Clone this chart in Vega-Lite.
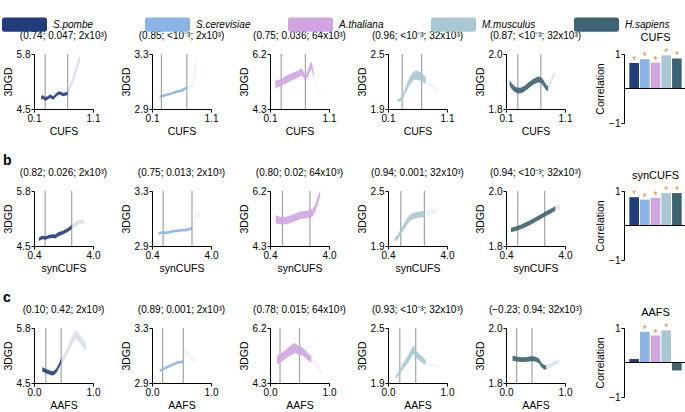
{
"$schema":"https://vega.github.io/schema/vega-lite/v6.json",
"padding":{"left":2,"top":2,"right":0,"bottom":0},
"spacing":17,
"datasets":{
"bands":[
{"f":"CUFS","s":"S.pombe","p":"main","x":0.22,"lo":4.72,"hi":4.80},
{"f":"CUFS","s":"S.pombe","p":"main","x":0.25,"lo":4.74,"hi":4.83},
{"f":"CUFS","s":"S.pombe","p":"main","x":0.28,"lo":4.70,"hi":4.79},
{"f":"CUFS","s":"S.pombe","p":"main","x":0.31,"lo":4.70,"hi":4.79},
{"f":"CUFS","s":"S.pombe","p":"main","x":0.34,"lo":4.73,"hi":4.81},
{"f":"CUFS","s":"S.pombe","p":"main","x":0.37,"lo":4.76,"hi":4.85},
{"f":"CUFS","s":"S.pombe","p":"main","x":0.40,"lo":4.74,"hi":4.82},
{"f":"CUFS","s":"S.pombe","p":"main","x":0.43,"lo":4.72,"hi":4.81},
{"f":"CUFS","s":"S.pombe","p":"main","x":0.46,"lo":4.77,"hi":4.85},
{"f":"CUFS","s":"S.pombe","p":"main","x":0.49,"lo":4.81,"hi":4.89},
{"f":"CUFS","s":"S.pombe","p":"main","x":0.52,"lo":4.84,"hi":4.92},
{"f":"CUFS","s":"S.pombe","p":"main","x":0.55,"lo":4.83,"hi":4.91},
{"f":"CUFS","s":"S.pombe","p":"main","x":0.58,"lo":4.81,"hi":4.89},
{"f":"CUFS","s":"S.pombe","p":"main","x":0.61,"lo":4.80,"hi":4.88},
{"f":"CUFS","s":"S.pombe","p":"main","x":0.64,"lo":4.82,"hi":4.90},
{"f":"CUFS","s":"S.pombe","p":"main","x":0.67,"lo":4.83,"hi":4.91},
{"f":"CUFS","s":"S.pombe","p":"tail","x":0.67,"lo":4.83,"hi":4.91},
{"f":"CUFS","s":"S.pombe","p":"tail","x":0.70,"lo":4.92,"hi":5.06},
{"f":"CUFS","s":"S.pombe","p":"tail","x":0.73,"lo":5.02,"hi":5.16},
{"f":"CUFS","s":"S.pombe","p":"tail","x":0.76,"lo":5.10,"hi":5.28},
{"f":"CUFS","s":"S.pombe","p":"tail","x":0.80,"lo":5.25,"hi":5.45},
{"f":"CUFS","s":"S.pombe","p":"tail","x":0.84,"lo":5.45,"hi":5.65},
{"f":"CUFS","s":"S.pombe","p":"tail","x":0.88,"lo":5.62,"hi":5.80},
{"f":"CUFS","s":"S.cerevisiae","p":"main","x":0.23,"lo":2.980,"hi":3.000},
{"f":"CUFS","s":"S.cerevisiae","p":"main","x":0.27,"lo":2.985,"hi":3.005},
{"f":"CUFS","s":"S.cerevisiae","p":"main","x":0.31,"lo":2.990,"hi":3.008},
{"f":"CUFS","s":"S.cerevisiae","p":"main","x":0.35,"lo":2.995,"hi":3.012},
{"f":"CUFS","s":"S.cerevisiae","p":"main","x":0.39,"lo":2.998,"hi":3.018},
{"f":"CUFS","s":"S.cerevisiae","p":"main","x":0.43,"lo":3.005,"hi":3.022},
{"f":"CUFS","s":"S.cerevisiae","p":"main","x":0.47,"lo":3.010,"hi":3.028},
{"f":"CUFS","s":"S.cerevisiae","p":"main","x":0.51,"lo":3.015,"hi":3.035},
{"f":"CUFS","s":"S.cerevisiae","p":"main","x":0.55,"lo":3.020,"hi":3.040},
{"f":"CUFS","s":"S.cerevisiae","p":"main","x":0.59,"lo":3.022,"hi":3.042},
{"f":"CUFS","s":"S.cerevisiae","p":"main","x":0.63,"lo":3.030,"hi":3.052},
{"f":"CUFS","s":"S.cerevisiae","p":"main","x":0.67,"lo":3.040,"hi":3.062},
{"f":"CUFS","s":"S.cerevisiae","p":"main","x":0.69,"lo":3.045,"hi":3.068},
{"f":"CUFS","s":"S.cerevisiae","p":"tail","x":0.69,"lo":3.045,"hi":3.068},
{"f":"CUFS","s":"S.cerevisiae","p":"tail","x":0.72,"lo":3.050,"hi":3.075},
{"f":"CUFS","s":"S.cerevisiae","p":"tail","x":0.75,"lo":3.052,"hi":3.080},
{"f":"CUFS","s":"S.cerevisiae","p":"tail","x":0.78,"lo":3.055,"hi":3.085},
{"f":"CUFS","s":"S.cerevisiae","p":"tail","x":0.82,"lo":3.100,"hi":3.200},
{"f":"CUFS","s":"S.cerevisiae","p":"tail","x":0.85,"lo":3.180,"hi":3.280},
{"f":"CUFS","s":"A.thaliana","p":"main","x":0.19,"lo":5.02,"hi":5.28},
{"f":"CUFS","s":"A.thaliana","p":"main","x":0.23,"lo":5.05,"hi":5.30},
{"f":"CUFS","s":"A.thaliana","p":"main","x":0.27,"lo":5.08,"hi":5.33},
{"f":"CUFS","s":"A.thaliana","p":"main","x":0.31,"lo":5.12,"hi":5.36},
{"f":"CUFS","s":"A.thaliana","p":"main","x":0.35,"lo":5.16,"hi":5.42},
{"f":"CUFS","s":"A.thaliana","p":"main","x":0.39,"lo":5.20,"hi":5.47},
{"f":"CUFS","s":"A.thaliana","p":"main","x":0.43,"lo":5.24,"hi":5.50},
{"f":"CUFS","s":"A.thaliana","p":"main","x":0.47,"lo":5.28,"hi":5.54},
{"f":"CUFS","s":"A.thaliana","p":"main","x":0.51,"lo":5.32,"hi":5.57},
{"f":"CUFS","s":"A.thaliana","p":"main","x":0.55,"lo":5.36,"hi":5.60},
{"f":"CUFS","s":"A.thaliana","p":"main","x":0.59,"lo":5.40,"hi":5.64},
{"f":"CUFS","s":"A.thaliana","p":"main","x":0.63,"lo":5.46,"hi":5.72},
{"f":"CUFS","s":"A.thaliana","p":"main","x":0.66,"lo":5.40,"hi":5.62},
{"f":"CUFS","s":"A.thaliana","p":"main","x":0.69,"lo":5.30,"hi":5.48},
{"f":"CUFS","s":"A.thaliana","p":"main","x":0.72,"lo":5.32,"hi":5.52},
{"f":"CUFS","s":"A.thaliana","p":"main","x":0.75,"lo":5.45,"hi":5.70},
{"f":"CUFS","s":"A.thaliana","p":"main","x":0.78,"lo":5.60,"hi":5.88},
{"f":"CUFS","s":"A.thaliana","p":"main","x":0.80,"lo":5.68,"hi":5.95},
{"f":"CUFS","s":"A.thaliana","p":"main","x":0.82,"lo":5.55,"hi":5.80},
{"f":"CUFS","s":"A.thaliana","p":"main","x":0.84,"lo":5.40,"hi":5.58},
{"f":"CUFS","s":"A.thaliana","p":"tail","x":0.84,"lo":5.40,"hi":5.58},
{"f":"CUFS","s":"A.thaliana","p":"tail","x":0.87,"lo":5.22,"hi":5.36},
{"f":"CUFS","s":"A.thaliana","p":"tail","x":0.90,"lo":5.02,"hi":5.15},
{"f":"CUFS","s":"A.thaliana","p":"tail","x":0.93,"lo":4.82,"hi":4.95},
{"f":"CUFS","s":"A.thaliana","p":"tail","x":0.96,"lo":4.75,"hi":4.85},
{"f":"CUFS","s":"M.musculus","p":"main","x":0.26,"lo":1.975,"hi":2.005},
{"f":"CUFS","s":"M.musculus","p":"main","x":0.29,"lo":1.980,"hi":2.015},
{"f":"CUFS","s":"M.musculus","p":"main","x":0.32,"lo":1.990,"hi":2.030},
{"f":"CUFS","s":"M.musculus","p":"main","x":0.35,"lo":2.010,"hi":2.060},
{"f":"CUFS","s":"M.musculus","p":"main","x":0.38,"lo":2.050,"hi":2.110},
{"f":"CUFS","s":"M.musculus","p":"main","x":0.41,"lo":2.090,"hi":2.160},
{"f":"CUFS","s":"M.musculus","p":"main","x":0.44,"lo":2.130,"hi":2.210},
{"f":"CUFS","s":"M.musculus","p":"main","x":0.47,"lo":2.170,"hi":2.250},
{"f":"CUFS","s":"M.musculus","p":"main","x":0.50,"lo":2.190,"hi":2.280},
{"f":"CUFS","s":"M.musculus","p":"main","x":0.53,"lo":2.210,"hi":2.300},
{"f":"CUFS","s":"M.musculus","p":"main","x":0.56,"lo":2.220,"hi":2.320},
{"f":"CUFS","s":"M.musculus","p":"main","x":0.59,"lo":2.220,"hi":2.320},
{"f":"CUFS","s":"M.musculus","p":"main","x":0.62,"lo":2.215,"hi":2.310},
{"f":"CUFS","s":"M.musculus","p":"main","x":0.65,"lo":2.205,"hi":2.300},
{"f":"CUFS","s":"M.musculus","p":"main","x":0.68,"lo":2.195,"hi":2.285},
{"f":"CUFS","s":"M.musculus","p":"main","x":0.71,"lo":2.185,"hi":2.270},
{"f":"CUFS","s":"M.musculus","p":"main","x":0.74,"lo":2.175,"hi":2.255},
{"f":"CUFS","s":"M.musculus","p":"tail","x":0.74,"lo":2.175,"hi":2.255},
{"f":"CUFS","s":"M.musculus","p":"tail","x":0.78,"lo":2.160,"hi":2.230},
{"f":"CUFS","s":"M.musculus","p":"tail","x":0.82,"lo":2.140,"hi":2.200},
{"f":"CUFS","s":"M.musculus","p":"tail","x":0.86,"lo":2.120,"hi":2.170},
{"f":"CUFS","s":"M.musculus","p":"tail","x":0.90,"lo":2.100,"hi":2.150},
{"f":"CUFS","s":"M.musculus","p":"tail","x":0.94,"lo":2.085,"hi":2.125},
{"f":"CUFS","s":"M.musculus","p":"tail","x":0.97,"lo":2.080,"hi":2.110},
{"f":"CUFS","s":"H.sapiens","p":"main","x":0.16,"lo":1.885,"hi":1.905},
{"f":"CUFS","s":"H.sapiens","p":"main","x":0.20,"lo":1.872,"hi":1.893},
{"f":"CUFS","s":"H.sapiens","p":"main","x":0.24,"lo":1.863,"hi":1.884},
{"f":"CUFS","s":"H.sapiens","p":"main","x":0.28,"lo":1.858,"hi":1.878},
{"f":"CUFS","s":"H.sapiens","p":"main","x":0.32,"lo":1.856,"hi":1.877},
{"f":"CUFS","s":"H.sapiens","p":"main","x":0.36,"lo":1.858,"hi":1.878},
{"f":"CUFS","s":"H.sapiens","p":"main","x":0.40,"lo":1.862,"hi":1.883},
{"f":"CUFS","s":"H.sapiens","p":"main","x":0.44,"lo":1.868,"hi":1.889},
{"f":"CUFS","s":"H.sapiens","p":"main","x":0.48,"lo":1.875,"hi":1.896},
{"f":"CUFS","s":"H.sapiens","p":"main","x":0.52,"lo":1.882,"hi":1.903},
{"f":"CUFS","s":"H.sapiens","p":"main","x":0.56,"lo":1.888,"hi":1.909},
{"f":"CUFS","s":"H.sapiens","p":"main","x":0.60,"lo":1.893,"hi":1.914},
{"f":"CUFS","s":"H.sapiens","p":"main","x":0.64,"lo":1.896,"hi":1.917},
{"f":"CUFS","s":"H.sapiens","p":"main","x":0.68,"lo":1.896,"hi":1.917},
{"f":"CUFS","s":"H.sapiens","p":"main","x":0.72,"lo":1.888,"hi":1.910},
{"f":"CUFS","s":"H.sapiens","p":"main","x":0.75,"lo":1.878,"hi":1.900},
{"f":"CUFS","s":"H.sapiens","p":"main","x":0.78,"lo":1.868,"hi":1.888},
{"f":"CUFS","s":"H.sapiens","p":"main","x":0.81,"lo":1.865,"hi":1.884},
{"f":"CUFS","s":"H.sapiens","p":"tail","x":0.81,"lo":1.865,"hi":1.884},
{"f":"CUFS","s":"H.sapiens","p":"tail","x":0.84,"lo":1.875,"hi":1.895},
{"f":"CUFS","s":"H.sapiens","p":"tail","x":0.87,"lo":1.895,"hi":1.915},
{"f":"CUFS","s":"H.sapiens","p":"tail","x":0.90,"lo":1.910,"hi":1.930},
{"f":"CUFS","s":"H.sapiens","p":"tail","x":0.93,"lo":1.918,"hi":1.938},
{"f":"synCUFS","s":"S.pombe","p":"main","x":0.70,"lo":4.62,"hi":4.70},
{"f":"synCUFS","s":"S.pombe","p":"main","x":0.90,"lo":4.66,"hi":4.74},
{"f":"synCUFS","s":"S.pombe","p":"main","x":1.10,"lo":4.65,"hi":4.73},
{"f":"synCUFS","s":"S.pombe","p":"main","x":1.30,"lo":4.68,"hi":4.76},
{"f":"synCUFS","s":"S.pombe","p":"main","x":1.50,"lo":4.69,"hi":4.78},
{"f":"synCUFS","s":"S.pombe","p":"main","x":1.70,"lo":4.68,"hi":4.77},
{"f":"synCUFS","s":"S.pombe","p":"main","x":1.90,"lo":4.73,"hi":4.83},
{"f":"synCUFS","s":"S.pombe","p":"main","x":2.10,"lo":4.76,"hi":4.85},
{"f":"synCUFS","s":"S.pombe","p":"main","x":2.30,"lo":4.80,"hi":4.89},
{"f":"synCUFS","s":"S.pombe","p":"main","x":2.50,"lo":4.84,"hi":4.93},
{"f":"synCUFS","s":"S.pombe","p":"main","x":2.70,"lo":4.90,"hi":5.00},
{"f":"synCUFS","s":"S.pombe","p":"tail","x":2.70,"lo":4.90,"hi":5.00},
{"f":"synCUFS","s":"S.pombe","p":"tail","x":2.90,"lo":4.95,"hi":5.06},
{"f":"synCUFS","s":"S.pombe","p":"tail","x":3.10,"lo":5.00,"hi":5.11},
{"f":"synCUFS","s":"S.pombe","p":"tail","x":3.30,"lo":5.03,"hi":5.14},
{"f":"synCUFS","s":"S.pombe","p":"tail","x":3.45,"lo":5.01,"hi":5.11},
{"f":"synCUFS","s":"S.cerevisiae","p":"main","x":0.80,"lo":2.980,"hi":3.000},
{"f":"synCUFS","s":"S.cerevisiae","p":"main","x":1.00,"lo":2.988,"hi":3.008},
{"f":"synCUFS","s":"S.cerevisiae","p":"main","x":1.20,"lo":2.985,"hi":3.005},
{"f":"synCUFS","s":"S.cerevisiae","p":"main","x":1.40,"lo":2.990,"hi":3.010},
{"f":"synCUFS","s":"S.cerevisiae","p":"main","x":1.60,"lo":2.995,"hi":3.015},
{"f":"synCUFS","s":"S.cerevisiae","p":"main","x":1.80,"lo":3.000,"hi":3.020},
{"f":"synCUFS","s":"S.cerevisiae","p":"main","x":2.00,"lo":3.000,"hi":3.020},
{"f":"synCUFS","s":"S.cerevisiae","p":"main","x":2.20,"lo":3.005,"hi":3.025},
{"f":"synCUFS","s":"S.cerevisiae","p":"main","x":2.40,"lo":3.005,"hi":3.025},
{"f":"synCUFS","s":"S.cerevisiae","p":"main","x":2.60,"lo":3.010,"hi":3.030},
{"f":"synCUFS","s":"S.cerevisiae","p":"main","x":2.84,"lo":3.020,"hi":3.042},
{"f":"synCUFS","s":"S.cerevisiae","p":"tail","x":2.84,"lo":3.020,"hi":3.042},
{"f":"synCUFS","s":"S.cerevisiae","p":"tail","x":2.95,"lo":3.050,"hi":3.090},
{"f":"synCUFS","s":"S.cerevisiae","p":"tail","x":3.05,"lo":3.100,"hi":3.140},
{"f":"synCUFS","s":"S.cerevisiae","p":"tail","x":3.20,"lo":3.110,"hi":3.150},
{"f":"synCUFS","s":"S.cerevisiae","p":"tail","x":3.35,"lo":3.100,"hi":3.135},
{"f":"synCUFS","s":"A.thaliana","p":"main","x":0.75,"lo":5.08,"hi":5.36},
{"f":"synCUFS","s":"A.thaliana","p":"main","x":1.00,"lo":5.05,"hi":5.31},
{"f":"synCUFS","s":"A.thaliana","p":"main","x":1.25,"lo":5.04,"hi":5.30},
{"f":"synCUFS","s":"A.thaliana","p":"main","x":1.50,"lo":5.07,"hi":5.33},
{"f":"synCUFS","s":"A.thaliana","p":"main","x":1.75,"lo":5.12,"hi":5.38},
{"f":"synCUFS","s":"A.thaliana","p":"main","x":2.00,"lo":5.17,"hi":5.43},
{"f":"synCUFS","s":"A.thaliana","p":"main","x":2.25,"lo":5.23,"hi":5.49},
{"f":"synCUFS","s":"A.thaliana","p":"main","x":2.50,"lo":5.25,"hi":5.51},
{"f":"synCUFS","s":"A.thaliana","p":"main","x":2.75,"lo":5.27,"hi":5.53},
{"f":"synCUFS","s":"A.thaliana","p":"main","x":3.00,"lo":5.32,"hi":5.58},
{"f":"synCUFS","s":"A.thaliana","p":"main","x":3.15,"lo":5.48,"hi":5.72},
{"f":"synCUFS","s":"A.thaliana","p":"main","x":3.30,"lo":5.72,"hi":5.98},
{"f":"synCUFS","s":"A.thaliana","p":"main","x":3.45,"lo":5.98,"hi":6.20},
{"f":"synCUFS","s":"A.thaliana","p":"tail","x":3.45,"lo":5.98,"hi":6.20},
{"f":"synCUFS","s":"A.thaliana","p":"tail","x":3.55,"lo":6.08,"hi":6.20},
{"f":"synCUFS","s":"M.musculus","p":"main","x":0.80,"lo":1.950,"hi":1.990},
{"f":"synCUFS","s":"M.musculus","p":"main","x":1.00,"lo":1.975,"hi":2.025},
{"f":"synCUFS","s":"M.musculus","p":"main","x":1.20,"lo":2.030,"hi":2.090},
{"f":"synCUFS","s":"M.musculus","p":"main","x":1.40,"lo":2.085,"hi":2.150},
{"f":"synCUFS","s":"M.musculus","p":"main","x":1.60,"lo":2.140,"hi":2.210},
{"f":"synCUFS","s":"M.musculus","p":"main","x":1.80,"lo":2.180,"hi":2.250},
{"f":"synCUFS","s":"M.musculus","p":"main","x":2.00,"lo":2.195,"hi":2.265},
{"f":"synCUFS","s":"M.musculus","p":"main","x":2.20,"lo":2.205,"hi":2.275},
{"f":"synCUFS","s":"M.musculus","p":"main","x":2.40,"lo":2.210,"hi":2.280},
{"f":"synCUFS","s":"M.musculus","p":"main","x":2.62,"lo":2.215,"hi":2.285},
{"f":"synCUFS","s":"M.musculus","p":"tail","x":2.62,"lo":2.215,"hi":2.285},
{"f":"synCUFS","s":"M.musculus","p":"tail","x":2.80,"lo":2.225,"hi":2.295},
{"f":"synCUFS","s":"M.musculus","p":"tail","x":3.00,"lo":2.235,"hi":2.305},
{"f":"synCUFS","s":"M.musculus","p":"tail","x":3.20,"lo":2.245,"hi":2.315},
{"f":"synCUFS","s":"M.musculus","p":"tail","x":3.40,"lo":2.255,"hi":2.325},
{"f":"synCUFS","s":"H.sapiens","p":"main","x":0.70,"lo":1.850,"hi":1.866},
{"f":"synCUFS","s":"H.sapiens","p":"main","x":1.00,"lo":1.855,"hi":1.871},
{"f":"synCUFS","s":"H.sapiens","p":"main","x":1.30,"lo":1.861,"hi":1.877},
{"f":"synCUFS","s":"H.sapiens","p":"main","x":1.60,"lo":1.868,"hi":1.886},
{"f":"synCUFS","s":"H.sapiens","p":"main","x":1.90,"lo":1.877,"hi":1.895},
{"f":"synCUFS","s":"H.sapiens","p":"main","x":2.20,"lo":1.887,"hi":1.905},
{"f":"synCUFS","s":"H.sapiens","p":"main","x":2.50,"lo":1.897,"hi":1.915},
{"f":"synCUFS","s":"H.sapiens","p":"main","x":2.76,"lo":1.906,"hi":1.924},
{"f":"synCUFS","s":"H.sapiens","p":"main","x":3.10,"lo":1.917,"hi":1.935},
{"f":"synCUFS","s":"H.sapiens","p":"main","x":3.40,"lo":1.927,"hi":1.945},
{"f":"synCUFS","s":"H.sapiens","p":"tail","x":3.40,"lo":1.927,"hi":1.945},
{"f":"synCUFS","s":"H.sapiens","p":"tail","x":3.70,"lo":1.937,"hi":1.953},
{"f":"AAFS","s":"S.pombe","p":"main","x":0.14,"lo":4.77,"hi":4.87},
{"f":"AAFS","s":"S.pombe","p":"main","x":0.18,"lo":4.75,"hi":4.85},
{"f":"AAFS","s":"S.pombe","p":"main","x":0.22,"lo":4.72,"hi":4.82},
{"f":"AAFS","s":"S.pombe","p":"main","x":0.26,"lo":4.70,"hi":4.80},
{"f":"AAFS","s":"S.pombe","p":"main","x":0.30,"lo":4.68,"hi":4.78},
{"f":"AAFS","s":"S.pombe","p":"main","x":0.34,"lo":4.69,"hi":4.79},
{"f":"AAFS","s":"S.pombe","p":"main","x":0.38,"lo":4.74,"hi":4.85},
{"f":"AAFS","s":"S.pombe","p":"main","x":0.42,"lo":4.84,"hi":4.95},
{"f":"AAFS","s":"S.pombe","p":"main","x":0.46,"lo":4.96,"hi":5.08},
{"f":"AAFS","s":"S.pombe","p":"tail","x":0.46,"lo":4.96,"hi":5.08},
{"f":"AAFS","s":"S.pombe","p":"tail","x":0.52,"lo":5.05,"hi":5.20},
{"f":"AAFS","s":"S.pombe","p":"tail","x":0.58,"lo":5.22,"hi":5.40},
{"f":"AAFS","s":"S.pombe","p":"tail","x":0.64,"lo":5.40,"hi":5.60},
{"f":"AAFS","s":"S.pombe","p":"tail","x":0.70,"lo":5.55,"hi":5.75},
{"f":"AAFS","s":"S.pombe","p":"tail","x":0.76,"lo":5.48,"hi":5.68},
{"f":"AAFS","s":"S.pombe","p":"tail","x":0.82,"lo":5.35,"hi":5.55},
{"f":"AAFS","s":"S.pombe","p":"tail","x":0.88,"lo":5.25,"hi":5.45},
{"f":"AAFS","s":"S.cerevisiae","p":"main","x":0.13,"lo":2.980,"hi":3.000},
{"f":"AAFS","s":"S.cerevisiae","p":"main","x":0.18,"lo":2.990,"hi":3.010},
{"f":"AAFS","s":"S.cerevisiae","p":"main","x":0.23,"lo":3.000,"hi":3.020},
{"f":"AAFS","s":"S.cerevisiae","p":"main","x":0.28,"lo":3.010,"hi":3.030},
{"f":"AAFS","s":"S.cerevisiae","p":"main","x":0.33,"lo":3.020,"hi":3.040},
{"f":"AAFS","s":"S.cerevisiae","p":"main","x":0.38,"lo":3.030,"hi":3.050},
{"f":"AAFS","s":"S.cerevisiae","p":"main","x":0.43,"lo":3.040,"hi":3.060},
{"f":"AAFS","s":"S.cerevisiae","p":"main","x":0.48,"lo":3.042,"hi":3.062},
{"f":"AAFS","s":"S.cerevisiae","p":"main","x":0.53,"lo":3.045,"hi":3.065},
{"f":"AAFS","s":"S.cerevisiae","p":"tail","x":0.53,"lo":3.045,"hi":3.065},
{"f":"AAFS","s":"S.cerevisiae","p":"tail","x":0.56,"lo":3.100,"hi":3.140},
{"f":"AAFS","s":"S.cerevisiae","p":"tail","x":0.59,"lo":3.120,"hi":3.160},
{"f":"AAFS","s":"S.cerevisiae","p":"tail","x":0.63,"lo":3.085,"hi":3.120},
{"f":"AAFS","s":"S.cerevisiae","p":"tail","x":0.68,"lo":3.060,"hi":3.090},
{"f":"AAFS","s":"S.cerevisiae","p":"tail","x":0.74,"lo":3.050,"hi":3.075},
{"f":"AAFS","s":"A.thaliana","p":"main","x":0.12,"lo":4.95,"hi":5.25},
{"f":"AAFS","s":"A.thaliana","p":"main","x":0.17,"lo":5.00,"hi":5.30},
{"f":"AAFS","s":"A.thaliana","p":"main","x":0.22,"lo":5.07,"hi":5.37},
{"f":"AAFS","s":"A.thaliana","p":"main","x":0.27,"lo":5.15,"hi":5.45},
{"f":"AAFS","s":"A.thaliana","p":"main","x":0.32,"lo":5.22,"hi":5.54},
{"f":"AAFS","s":"A.thaliana","p":"main","x":0.37,"lo":5.28,"hi":5.62},
{"f":"AAFS","s":"A.thaliana","p":"main","x":0.42,"lo":5.33,"hi":5.68},
{"f":"AAFS","s":"A.thaliana","p":"main","x":0.46,"lo":5.30,"hi":5.62},
{"f":"AAFS","s":"A.thaliana","p":"main","x":0.50,"lo":5.28,"hi":5.57},
{"f":"AAFS","s":"A.thaliana","p":"main","x":0.55,"lo":5.24,"hi":5.52},
{"f":"AAFS","s":"A.thaliana","p":"main","x":0.60,"lo":5.16,"hi":5.44},
{"f":"AAFS","s":"A.thaliana","p":"main","x":0.65,"lo":5.08,"hi":5.32},
{"f":"AAFS","s":"A.thaliana","p":"main","x":0.70,"lo":5.00,"hi":5.22},
{"f":"AAFS","s":"A.thaliana","p":"tail","x":0.70,"lo":5.00,"hi":5.22},
{"f":"AAFS","s":"A.thaliana","p":"tail","x":0.76,"lo":4.90,"hi":5.08},
{"f":"AAFS","s":"A.thaliana","p":"tail","x":0.82,"lo":4.76,"hi":4.92},
{"f":"AAFS","s":"A.thaliana","p":"tail","x":0.88,"lo":4.55,"hi":4.68},
{"f":"AAFS","s":"M.musculus","p":"main","x":0.13,"lo":1.940,"hi":1.975},
{"f":"AAFS","s":"M.musculus","p":"main","x":0.18,"lo":1.985,"hi":2.030},
{"f":"AAFS","s":"M.musculus","p":"main","x":0.23,"lo":2.030,"hi":2.085},
{"f":"AAFS","s":"M.musculus","p":"main","x":0.28,"lo":2.070,"hi":2.140},
{"f":"AAFS","s":"M.musculus","p":"main","x":0.33,"lo":2.110,"hi":2.195},
{"f":"AAFS","s":"M.musculus","p":"main","x":0.38,"lo":2.160,"hi":2.250},
{"f":"AAFS","s":"M.musculus","p":"main","x":0.43,"lo":2.220,"hi":2.310},
{"f":"AAFS","s":"M.musculus","p":"main","x":0.47,"lo":2.180,"hi":2.260},
{"f":"AAFS","s":"M.musculus","p":"main","x":0.52,"lo":2.150,"hi":2.225},
{"f":"AAFS","s":"M.musculus","p":"main","x":0.58,"lo":2.120,"hi":2.190},
{"f":"AAFS","s":"M.musculus","p":"main","x":0.64,"lo":2.095,"hi":2.150},
{"f":"AAFS","s":"M.musculus","p":"tail","x":0.64,"lo":2.095,"hi":2.150},
{"f":"AAFS","s":"M.musculus","p":"tail","x":0.70,"lo":2.080,"hi":2.125},
{"f":"AAFS","s":"M.musculus","p":"tail","x":0.76,"lo":2.075,"hi":2.110},
{"f":"AAFS","s":"M.musculus","p":"tail","x":0.82,"lo":2.072,"hi":2.105},
{"f":"AAFS","s":"M.musculus","p":"tail","x":0.88,"lo":2.065,"hi":2.095},
{"f":"AAFS","s":"H.sapiens","p":"main","x":0.11,"lo":1.881,"hi":1.899},
{"f":"AAFS","s":"H.sapiens","p":"main","x":0.16,"lo":1.879,"hi":1.897},
{"f":"AAFS","s":"H.sapiens","p":"main","x":0.21,"lo":1.877,"hi":1.895},
{"f":"AAFS","s":"H.sapiens","p":"main","x":0.26,"lo":1.876,"hi":1.894},
{"f":"AAFS","s":"H.sapiens","p":"main","x":0.31,"lo":1.876,"hi":1.894},
{"f":"AAFS","s":"H.sapiens","p":"main","x":0.36,"lo":1.877,"hi":1.895},
{"f":"AAFS","s":"H.sapiens","p":"main","x":0.41,"lo":1.879,"hi":1.897},
{"f":"AAFS","s":"H.sapiens","p":"main","x":0.46,"lo":1.879,"hi":1.897},
{"f":"AAFS","s":"H.sapiens","p":"main","x":0.51,"lo":1.877,"hi":1.895},
{"f":"AAFS","s":"H.sapiens","p":"main","x":0.56,"lo":1.871,"hi":1.889},
{"f":"AAFS","s":"H.sapiens","p":"main","x":0.60,"lo":1.857,"hi":1.874},
{"f":"AAFS","s":"H.sapiens","p":"main","x":0.64,"lo":1.850,"hi":1.866},
{"f":"AAFS","s":"H.sapiens","p":"main","x":0.68,"lo":1.848,"hi":1.864},
{"f":"AAFS","s":"H.sapiens","p":"tail","x":0.68,"lo":1.848,"hi":1.864},
{"f":"AAFS","s":"H.sapiens","p":"tail","x":0.74,"lo":1.854,"hi":1.870},
{"f":"AAFS","s":"H.sapiens","p":"tail","x":0.80,"lo":1.862,"hi":1.878},
{"f":"AAFS","s":"H.sapiens","p":"tail","x":0.86,"lo":1.867,"hi":1.883},
{"f":"AAFS","s":"H.sapiens","p":"tail","x":0.90,"lo":1.872,"hi":1.888}
],
"rules":[
{"f":"CUFS","s":"S.pombe","x":0.29},{"f":"CUFS","s":"S.pombe","x":0.67},
{"f":"CUFS","s":"S.cerevisiae","x":0.26},{"f":"CUFS","s":"S.cerevisiae","x":0.69},
{"f":"CUFS","s":"A.thaliana","x":0.29},{"f":"CUFS","s":"A.thaliana","x":0.70},
{"f":"CUFS","s":"M.musculus","x":0.34},{"f":"CUFS","s":"M.musculus","x":0.67},
{"f":"CUFS","s":"H.sapiens","x":0.30},{"f":"CUFS","s":"H.sapiens","x":0.69},
{"f":"synCUFS","s":"S.pombe","x":1.08},{"f":"synCUFS","s":"S.pombe","x":2.70},
{"f":"synCUFS","s":"S.cerevisiae","x":1.08},{"f":"synCUFS","s":"S.cerevisiae","x":2.84},
{"f":"synCUFS","s":"A.thaliana","x":1.16},{"f":"synCUFS","s":"A.thaliana","x":2.84},
{"f":"synCUFS","s":"M.musculus","x":1.18},{"f":"synCUFS","s":"M.musculus","x":2.62},
{"f":"synCUFS","s":"H.sapiens","x":1.12},{"f":"synCUFS","s":"H.sapiens","x":2.76},
{"f":"AAFS","s":"S.pombe","x":0.20},{"f":"AAFS","s":"S.pombe","x":0.46},
{"f":"AAFS","s":"S.cerevisiae","x":0.18},{"f":"AAFS","s":"S.cerevisiae","x":0.53},
{"f":"AAFS","s":"A.thaliana","x":0.17},{"f":"AAFS","s":"A.thaliana","x":0.50},
{"f":"AAFS","s":"M.musculus","x":0.20},{"f":"AAFS","s":"M.musculus","x":0.47},
{"f":"AAFS","s":"H.sapiens","x":0.18},{"f":"AAFS","s":"H.sapiens","x":0.44}
],
"corr":[
{"f":"CUFS","s":"S.pombe","r":0.74,"sig":true},
{"f":"CUFS","s":"S.cerevisiae","r":0.85,"sig":true},
{"f":"CUFS","s":"A.thaliana","r":0.75,"sig":true},
{"f":"CUFS","s":"M.musculus","r":0.96,"sig":true},
{"f":"CUFS","s":"H.sapiens","r":0.87,"sig":true},
{"f":"synCUFS","s":"S.pombe","r":0.82,"sig":true},
{"f":"synCUFS","s":"S.cerevisiae","r":0.75,"sig":true},
{"f":"synCUFS","s":"A.thaliana","r":0.80,"sig":true},
{"f":"synCUFS","s":"M.musculus","r":0.94,"sig":true},
{"f":"synCUFS","s":"H.sapiens","r":0.94,"sig":true},
{"f":"AAFS","s":"S.pombe","r":0.10,"sig":false},
{"f":"AAFS","s":"S.cerevisiae","r":0.89,"sig":true},
{"f":"AAFS","s":"A.thaliana","r":0.78,"sig":true},
{"f":"AAFS","s":"M.musculus","r":0.93,"sig":true},
{"f":"AAFS","s":"H.sapiens","r":-0.23,"sig":false}
]
},
"vconcat":[
{"title":{"text":"a","anchor":"start","frame":"bounds","fontSize":14,"fontWeight":"bold","offset":0},
"bounds":"flush","spacing":59,
"hconcat":[
{"width":59,"height":55,"title":{"text":"(0.74; 0.047; 2x10³)","offset":8},"layer":[
{"data":{"name":"rules"},"transform":[{"filter":"datum.f=='CUFS'&&datum.s=='S.pombe'"}],"mark":{"type":"rule","color":"#a3a3a3","strokeWidth":1.2},"encoding":{"x":{"field":"x","type":"quantitative","scale":{"domain":[0.1,1.1],"nice":false,"zero":false},"axis":{"values":[0.1,1.1],"format":".1f","title":"CUFS"}}}},
{"data":{"name":"bands"},"transform":[{"filter":"datum.f=='CUFS'&&datum.s=='S.pombe'"}],"mark":{"type":"area","clip":true},"encoding":{"x":{"field":"x","type":"quantitative","scale":{"domain":[0.1,1.1],"nice":false,"zero":false},"axis":{"values":[0.1,1.1],"format":".1f","title":"CUFS"}},"y":{"field":"lo","type":"quantitative","scale":{"domain":[4.5,5.8],"nice":false,"zero":false},"axis":{"values":[4.5,5.8],"format":".1f","title":"3DGD"}},"y2":{"field":"hi"},"color":{"field":"s","type":"nominal","scale":{"domain":["S.pombe","S.cerevisiae","A.thaliana","M.musculus","H.sapiens"],"range":["#213d7c","#8ab4e3","#d0a5e2","#a9c8d4","#3c6373"]},"legend":{"title":null}},"opacity":{"field":"p","type":"nominal","scale":{"domain":["main","tail"],"range":[0.9,0.15]},"legend":null}}}]},
{"width":59,"height":55,"title":{"text":"(0.85; <10⁻³; 2x10³)","offset":8},"layer":[
{"data":{"name":"rules"},"transform":[{"filter":"datum.f=='CUFS'&&datum.s=='S.cerevisiae'"}],"mark":{"type":"rule","color":"#a3a3a3","strokeWidth":1.2},"encoding":{"x":{"field":"x","type":"quantitative","scale":{"domain":[0.1,1.1],"nice":false,"zero":false},"axis":{"values":[0.1,1.1],"format":".1f","title":"CUFS"}}}},
{"data":{"name":"bands"},"transform":[{"filter":"datum.f=='CUFS'&&datum.s=='S.cerevisiae'"}],"mark":{"type":"area","clip":true},"encoding":{"x":{"field":"x","type":"quantitative","scale":{"domain":[0.1,1.1],"nice":false,"zero":false},"axis":{"values":[0.1,1.1],"format":".1f","title":"CUFS"}},"y":{"field":"lo","type":"quantitative","scale":{"domain":[2.9,3.3],"nice":false,"zero":false},"axis":{"values":[2.9,3.3],"format":".1f","title":"3DGD"}},"y2":{"field":"hi"},"color":{"field":"s","type":"nominal","scale":{"domain":["S.pombe","S.cerevisiae","A.thaliana","M.musculus","H.sapiens"],"range":["#213d7c","#8ab4e3","#d0a5e2","#a9c8d4","#3c6373"]},"legend":{"title":null}},"opacity":{"field":"p","type":"nominal","scale":{"domain":["main","tail"],"range":[0.9,0.15]},"legend":null}}}]},
{"width":59,"height":55,"title":{"text":"(0.75; 0.036; 64x10³)","offset":8},"layer":[
{"data":{"name":"rules"},"transform":[{"filter":"datum.f=='CUFS'&&datum.s=='A.thaliana'"}],"mark":{"type":"rule","color":"#a3a3a3","strokeWidth":1.2},"encoding":{"x":{"field":"x","type":"quantitative","scale":{"domain":[0.1,1.1],"nice":false,"zero":false},"axis":{"values":[0.1,1.1],"format":".1f","title":"CUFS"}}}},
{"data":{"name":"bands"},"transform":[{"filter":"datum.f=='CUFS'&&datum.s=='A.thaliana'"}],"mark":{"type":"area","clip":true},"encoding":{"x":{"field":"x","type":"quantitative","scale":{"domain":[0.1,1.1],"nice":false,"zero":false},"axis":{"values":[0.1,1.1],"format":".1f","title":"CUFS"}},"y":{"field":"lo","type":"quantitative","scale":{"domain":[4.3,6.2],"nice":false,"zero":false},"axis":{"values":[4.3,6.2],"format":".1f","title":"3DGD"}},"y2":{"field":"hi"},"color":{"field":"s","type":"nominal","scale":{"domain":["S.pombe","S.cerevisiae","A.thaliana","M.musculus","H.sapiens"],"range":["#213d7c","#8ab4e3","#d0a5e2","#a9c8d4","#3c6373"]},"legend":{"title":null}},"opacity":{"field":"p","type":"nominal","scale":{"domain":["main","tail"],"range":[0.9,0.15]},"legend":null}}}]},
{"width":59,"height":55,"title":{"text":"(0.96; <10⁻³; 32x10³)","offset":8},"layer":[
{"data":{"name":"rules"},"transform":[{"filter":"datum.f=='CUFS'&&datum.s=='M.musculus'"}],"mark":{"type":"rule","color":"#a3a3a3","strokeWidth":1.2},"encoding":{"x":{"field":"x","type":"quantitative","scale":{"domain":[0.1,1.1],"nice":false,"zero":false},"axis":{"values":[0.1,1.1],"format":".1f","title":"CUFS"}}}},
{"data":{"name":"bands"},"transform":[{"filter":"datum.f=='CUFS'&&datum.s=='M.musculus'"}],"mark":{"type":"area","clip":true},"encoding":{"x":{"field":"x","type":"quantitative","scale":{"domain":[0.1,1.1],"nice":false,"zero":false},"axis":{"values":[0.1,1.1],"format":".1f","title":"CUFS"}},"y":{"field":"lo","type":"quantitative","scale":{"domain":[1.9,2.5],"nice":false,"zero":false},"axis":{"values":[1.9,2.5],"format":".1f","title":"3DGD"}},"y2":{"field":"hi"},"color":{"field":"s","type":"nominal","scale":{"domain":["S.pombe","S.cerevisiae","A.thaliana","M.musculus","H.sapiens"],"range":["#213d7c","#8ab4e3","#d0a5e2","#a9c8d4","#3c6373"]},"legend":{"title":null}},"opacity":{"field":"p","type":"nominal","scale":{"domain":["main","tail"],"range":[0.9,0.15]},"legend":null}}}]},
{"width":59,"height":55,"title":{"text":"(0.87; <10⁻³; 32x10³)","offset":8},"layer":[
{"data":{"name":"rules"},"transform":[{"filter":"datum.f=='CUFS'&&datum.s=='H.sapiens'"}],"mark":{"type":"rule","color":"#a3a3a3","strokeWidth":1.2},"encoding":{"x":{"field":"x","type":"quantitative","scale":{"domain":[0.1,1.1],"nice":false,"zero":false},"axis":{"values":[0.1,1.1],"format":".1f","title":"CUFS"}}}},
{"data":{"name":"bands"},"transform":[{"filter":"datum.f=='CUFS'&&datum.s=='H.sapiens'"}],"mark":{"type":"area","clip":true},"encoding":{"x":{"field":"x","type":"quantitative","scale":{"domain":[0.1,1.1],"nice":false,"zero":false},"axis":{"values":[0.1,1.1],"format":".1f","title":"CUFS"}},"y":{"field":"lo","type":"quantitative","scale":{"domain":[1.8,2.0],"nice":false,"zero":false},"axis":{"values":[1.8,2.0],"format":".1f","title":"3DGD"}},"y2":{"field":"hi"},"color":{"field":"s","type":"nominal","scale":{"domain":["S.pombe","S.cerevisiae","A.thaliana","M.musculus","H.sapiens"],"range":["#213d7c","#8ab4e3","#d0a5e2","#a9c8d4","#3c6373"]},"legend":{"title":null}},"opacity":{"field":"p","type":"nominal","scale":{"domain":["main","tail"],"range":[0.9,0.15]},"legend":null}}}]},
{"width":63,"height":69,"title":{"text":"CUFS","offset":5,"fontSize":11},"data":{"name":"corr"},"transform":[{"filter":"datum.f=='CUFS'"}],"layer":[
{"mark":{"type":"bar"},"encoding":{"x":{"field":"s","type":"nominal","sort":["S.pombe","S.cerevisiae","A.thaliana","M.musculus","H.sapiens"],"scale":{"domain":["S.pombe","S.cerevisiae","A.thaliana","M.musculus","H.sapiens"],"paddingInner":0.1,"paddingOuter":0.5},"axis":null},"y":{"field":"r","type":"quantitative","scale":{"domain":[-1,1],"nice":false},"axis":{"values":[-1,0,1],"format":"d","title":"Correlation"}},"color":{"field":"s","type":"nominal","scale":{"domain":["S.pombe","S.cerevisiae","A.thaliana","M.musculus","H.sapiens"],"range":["#213d7c","#8ab4e3","#d0a5e2","#a9c8d4","#3c6373"]},"legend":{"title":null}}}},
{"mark":{"type":"rule","color":"#000","strokeWidth":1},"encoding":{"y":{"datum":0}}},
{"transform":[{"filter":"datum.sig"}],"mark":{"type":"text","text":"*","color":"#e8893a","fontSize":10,"baseline":"bottom","dy":3},"encoding":{"x":{"field":"s","type":"nominal","sort":["S.pombe","S.cerevisiae","A.thaliana","M.musculus","H.sapiens"],"scale":{"domain":["S.pombe","S.cerevisiae","A.thaliana","M.musculus","H.sapiens"],"paddingInner":0.1,"paddingOuter":0.5},"axis":null},"y":{"field":"r","type":"quantitative"}}}
]}
]},
{"title":{"text":"b","anchor":"start","frame":"bounds","fontSize":14,"fontWeight":"bold","offset":0},
"bounds":"flush","spacing":59,
"hconcat":[
{"width":59,"height":55,"title":{"text":"(0.82; 0.026; 2x10³)","offset":8},"layer":[
{"data":{"name":"rules"},"transform":[{"filter":"datum.f=='synCUFS'&&datum.s=='S.pombe'"}],"mark":{"type":"rule","color":"#a3a3a3","strokeWidth":1.2},"encoding":{"x":{"field":"x","type":"quantitative","scale":{"domain":[0.4,4.0],"nice":false,"zero":false},"axis":{"values":[0.4,4.0],"format":".1f","title":"synCUFS"}}}},
{"data":{"name":"bands"},"transform":[{"filter":"datum.f=='synCUFS'&&datum.s=='S.pombe'"}],"mark":{"type":"area","clip":true},"encoding":{"x":{"field":"x","type":"quantitative","scale":{"domain":[0.4,4.0],"nice":false,"zero":false},"axis":{"values":[0.4,4.0],"format":".1f","title":"synCUFS"}},"y":{"field":"lo","type":"quantitative","scale":{"domain":[4.5,5.8],"nice":false,"zero":false},"axis":{"values":[4.5,5.8],"format":".1f","title":"3DGD"}},"y2":{"field":"hi"},"color":{"field":"s","type":"nominal","scale":{"domain":["S.pombe","S.cerevisiae","A.thaliana","M.musculus","H.sapiens"],"range":["#213d7c","#8ab4e3","#d0a5e2","#a9c8d4","#3c6373"]},"legend":{"title":null}},"opacity":{"field":"p","type":"nominal","scale":{"domain":["main","tail"],"range":[0.9,0.15]},"legend":null}}}]},
{"width":59,"height":55,"title":{"text":"(0.75; 0.013; 2x10³)","offset":8},"layer":[
{"data":{"name":"rules"},"transform":[{"filter":"datum.f=='synCUFS'&&datum.s=='S.cerevisiae'"}],"mark":{"type":"rule","color":"#a3a3a3","strokeWidth":1.2},"encoding":{"x":{"field":"x","type":"quantitative","scale":{"domain":[0.4,4.0],"nice":false,"zero":false},"axis":{"values":[0.4,4.0],"format":".1f","title":"synCUFS"}}}},
{"data":{"name":"bands"},"transform":[{"filter":"datum.f=='synCUFS'&&datum.s=='S.cerevisiae'"}],"mark":{"type":"area","clip":true},"encoding":{"x":{"field":"x","type":"quantitative","scale":{"domain":[0.4,4.0],"nice":false,"zero":false},"axis":{"values":[0.4,4.0],"format":".1f","title":"synCUFS"}},"y":{"field":"lo","type":"quantitative","scale":{"domain":[2.9,3.3],"nice":false,"zero":false},"axis":{"values":[2.9,3.3],"format":".1f","title":"3DGD"}},"y2":{"field":"hi"},"color":{"field":"s","type":"nominal","scale":{"domain":["S.pombe","S.cerevisiae","A.thaliana","M.musculus","H.sapiens"],"range":["#213d7c","#8ab4e3","#d0a5e2","#a9c8d4","#3c6373"]},"legend":{"title":null}},"opacity":{"field":"p","type":"nominal","scale":{"domain":["main","tail"],"range":[0.9,0.15]},"legend":null}}}]},
{"width":59,"height":55,"title":{"text":"(0.80; 0.02; 64x10³)","offset":8},"layer":[
{"data":{"name":"rules"},"transform":[{"filter":"datum.f=='synCUFS'&&datum.s=='A.thaliana'"}],"mark":{"type":"rule","color":"#a3a3a3","strokeWidth":1.2},"encoding":{"x":{"field":"x","type":"quantitative","scale":{"domain":[0.4,4.0],"nice":false,"zero":false},"axis":{"values":[0.4,4.0],"format":".1f","title":"synCUFS"}}}},
{"data":{"name":"bands"},"transform":[{"filter":"datum.f=='synCUFS'&&datum.s=='A.thaliana'"}],"mark":{"type":"area","clip":true},"encoding":{"x":{"field":"x","type":"quantitative","scale":{"domain":[0.4,4.0],"nice":false,"zero":false},"axis":{"values":[0.4,4.0],"format":".1f","title":"synCUFS"}},"y":{"field":"lo","type":"quantitative","scale":{"domain":[4.3,6.2],"nice":false,"zero":false},"axis":{"values":[4.3,6.2],"format":".1f","title":"3DGD"}},"y2":{"field":"hi"},"color":{"field":"s","type":"nominal","scale":{"domain":["S.pombe","S.cerevisiae","A.thaliana","M.musculus","H.sapiens"],"range":["#213d7c","#8ab4e3","#d0a5e2","#a9c8d4","#3c6373"]},"legend":{"title":null}},"opacity":{"field":"p","type":"nominal","scale":{"domain":["main","tail"],"range":[0.9,0.15]},"legend":null}}}]},
{"width":59,"height":55,"title":{"text":"(0.94; 0.001; 32x10³)","offset":8},"layer":[
{"data":{"name":"rules"},"transform":[{"filter":"datum.f=='synCUFS'&&datum.s=='M.musculus'"}],"mark":{"type":"rule","color":"#a3a3a3","strokeWidth":1.2},"encoding":{"x":{"field":"x","type":"quantitative","scale":{"domain":[0.4,4.0],"nice":false,"zero":false},"axis":{"values":[0.4,4.0],"format":".1f","title":"synCUFS"}}}},
{"data":{"name":"bands"},"transform":[{"filter":"datum.f=='synCUFS'&&datum.s=='M.musculus'"}],"mark":{"type":"area","clip":true},"encoding":{"x":{"field":"x","type":"quantitative","scale":{"domain":[0.4,4.0],"nice":false,"zero":false},"axis":{"values":[0.4,4.0],"format":".1f","title":"synCUFS"}},"y":{"field":"lo","type":"quantitative","scale":{"domain":[1.9,2.5],"nice":false,"zero":false},"axis":{"values":[1.9,2.5],"format":".1f","title":"3DGD"}},"y2":{"field":"hi"},"color":{"field":"s","type":"nominal","scale":{"domain":["S.pombe","S.cerevisiae","A.thaliana","M.musculus","H.sapiens"],"range":["#213d7c","#8ab4e3","#d0a5e2","#a9c8d4","#3c6373"]},"legend":{"title":null}},"opacity":{"field":"p","type":"nominal","scale":{"domain":["main","tail"],"range":[0.9,0.15]},"legend":null}}}]},
{"width":59,"height":55,"title":{"text":"(0.94; <10⁻³; 32x10³)","offset":8},"layer":[
{"data":{"name":"rules"},"transform":[{"filter":"datum.f=='synCUFS'&&datum.s=='H.sapiens'"}],"mark":{"type":"rule","color":"#a3a3a3","strokeWidth":1.2},"encoding":{"x":{"field":"x","type":"quantitative","scale":{"domain":[0.4,4.0],"nice":false,"zero":false},"axis":{"values":[0.4,4.0],"format":".1f","title":"synCUFS"}}}},
{"data":{"name":"bands"},"transform":[{"filter":"datum.f=='synCUFS'&&datum.s=='H.sapiens'"}],"mark":{"type":"area","clip":true},"encoding":{"x":{"field":"x","type":"quantitative","scale":{"domain":[0.4,4.0],"nice":false,"zero":false},"axis":{"values":[0.4,4.0],"format":".1f","title":"synCUFS"}},"y":{"field":"lo","type":"quantitative","scale":{"domain":[1.8,2.0],"nice":false,"zero":false},"axis":{"values":[1.8,2.0],"format":".1f","title":"3DGD"}},"y2":{"field":"hi"},"color":{"field":"s","type":"nominal","scale":{"domain":["S.pombe","S.cerevisiae","A.thaliana","M.musculus","H.sapiens"],"range":["#213d7c","#8ab4e3","#d0a5e2","#a9c8d4","#3c6373"]},"legend":{"title":null}},"opacity":{"field":"p","type":"nominal","scale":{"domain":["main","tail"],"range":[0.9,0.15]},"legend":null}}}]},
{"width":63,"height":69,"title":{"text":"synCUFS","offset":5,"fontSize":11},"data":{"name":"corr"},"transform":[{"filter":"datum.f=='synCUFS'"}],"layer":[
{"mark":{"type":"bar"},"encoding":{"x":{"field":"s","type":"nominal","sort":["S.pombe","S.cerevisiae","A.thaliana","M.musculus","H.sapiens"],"scale":{"domain":["S.pombe","S.cerevisiae","A.thaliana","M.musculus","H.sapiens"],"paddingInner":0.1,"paddingOuter":0.5},"axis":null},"y":{"field":"r","type":"quantitative","scale":{"domain":[-1,1],"nice":false},"axis":{"values":[-1,0,1],"format":"d","title":"Correlation"}},"color":{"field":"s","type":"nominal","scale":{"domain":["S.pombe","S.cerevisiae","A.thaliana","M.musculus","H.sapiens"],"range":["#213d7c","#8ab4e3","#d0a5e2","#a9c8d4","#3c6373"]},"legend":{"title":null}}}},
{"mark":{"type":"rule","color":"#000","strokeWidth":1},"encoding":{"y":{"datum":0}}},
{"transform":[{"filter":"datum.sig"}],"mark":{"type":"text","text":"*","color":"#e8893a","fontSize":10,"baseline":"bottom","dy":3},"encoding":{"x":{"field":"s","type":"nominal","sort":["S.pombe","S.cerevisiae","A.thaliana","M.musculus","H.sapiens"],"scale":{"domain":["S.pombe","S.cerevisiae","A.thaliana","M.musculus","H.sapiens"],"paddingInner":0.1,"paddingOuter":0.5},"axis":null},"y":{"field":"r","type":"quantitative"}}}
]}
]},
{"title":{"text":"c","anchor":"start","frame":"bounds","fontSize":14,"fontWeight":"bold","offset":0},
"bounds":"flush","spacing":59,
"hconcat":[
{"width":59,"height":55,"title":{"text":"(0.10; 0.42; 2x10³)","offset":8},"layer":[
{"data":{"name":"rules"},"transform":[{"filter":"datum.f=='AAFS'&&datum.s=='S.pombe'"}],"mark":{"type":"rule","color":"#a3a3a3","strokeWidth":1.2},"encoding":{"x":{"field":"x","type":"quantitative","scale":{"domain":[0,1],"nice":false,"zero":false},"axis":{"values":[0,1],"format":".1f","title":"AAFS"}}}},
{"data":{"name":"bands"},"transform":[{"filter":"datum.f=='AAFS'&&datum.s=='S.pombe'"}],"mark":{"type":"area","clip":true},"encoding":{"x":{"field":"x","type":"quantitative","scale":{"domain":[0,1],"nice":false,"zero":false},"axis":{"values":[0,1],"format":".1f","title":"AAFS"}},"y":{"field":"lo","type":"quantitative","scale":{"domain":[4.5,5.8],"nice":false,"zero":false},"axis":{"values":[4.5,5.8],"format":".1f","title":"3DGD"}},"y2":{"field":"hi"},"color":{"field":"s","type":"nominal","scale":{"domain":["S.pombe","S.cerevisiae","A.thaliana","M.musculus","H.sapiens"],"range":["#213d7c","#8ab4e3","#d0a5e2","#a9c8d4","#3c6373"]},"legend":{"title":null}},"opacity":{"field":"p","type":"nominal","scale":{"domain":["main","tail"],"range":[0.9,0.15]},"legend":null}}}]},
{"width":59,"height":55,"title":{"text":"(0.89; 0.001; 2x10³)","offset":8},"layer":[
{"data":{"name":"rules"},"transform":[{"filter":"datum.f=='AAFS'&&datum.s=='S.cerevisiae'"}],"mark":{"type":"rule","color":"#a3a3a3","strokeWidth":1.2},"encoding":{"x":{"field":"x","type":"quantitative","scale":{"domain":[0,1],"nice":false,"zero":false},"axis":{"values":[0,1],"format":".1f","title":"AAFS"}}}},
{"data":{"name":"bands"},"transform":[{"filter":"datum.f=='AAFS'&&datum.s=='S.cerevisiae'"}],"mark":{"type":"area","clip":true},"encoding":{"x":{"field":"x","type":"quantitative","scale":{"domain":[0,1],"nice":false,"zero":false},"axis":{"values":[0,1],"format":".1f","title":"AAFS"}},"y":{"field":"lo","type":"quantitative","scale":{"domain":[2.9,3.3],"nice":false,"zero":false},"axis":{"values":[2.9,3.3],"format":".1f","title":"3DGD"}},"y2":{"field":"hi"},"color":{"field":"s","type":"nominal","scale":{"domain":["S.pombe","S.cerevisiae","A.thaliana","M.musculus","H.sapiens"],"range":["#213d7c","#8ab4e3","#d0a5e2","#a9c8d4","#3c6373"]},"legend":{"title":null}},"opacity":{"field":"p","type":"nominal","scale":{"domain":["main","tail"],"range":[0.9,0.15]},"legend":null}}}]},
{"width":59,"height":55,"title":{"text":"(0.78; 0.015; 64x10³)","offset":8},"layer":[
{"data":{"name":"rules"},"transform":[{"filter":"datum.f=='AAFS'&&datum.s=='A.thaliana'"}],"mark":{"type":"rule","color":"#a3a3a3","strokeWidth":1.2},"encoding":{"x":{"field":"x","type":"quantitative","scale":{"domain":[0,1],"nice":false,"zero":false},"axis":{"values":[0,1],"format":".1f","title":"AAFS"}}}},
{"data":{"name":"bands"},"transform":[{"filter":"datum.f=='AAFS'&&datum.s=='A.thaliana'"}],"mark":{"type":"area","clip":true},"encoding":{"x":{"field":"x","type":"quantitative","scale":{"domain":[0,1],"nice":false,"zero":false},"axis":{"values":[0,1],"format":".1f","title":"AAFS"}},"y":{"field":"lo","type":"quantitative","scale":{"domain":[4.3,6.2],"nice":false,"zero":false},"axis":{"values":[4.3,6.2],"format":".1f","title":"3DGD"}},"y2":{"field":"hi"},"color":{"field":"s","type":"nominal","scale":{"domain":["S.pombe","S.cerevisiae","A.thaliana","M.musculus","H.sapiens"],"range":["#213d7c","#8ab4e3","#d0a5e2","#a9c8d4","#3c6373"]},"legend":{"title":null}},"opacity":{"field":"p","type":"nominal","scale":{"domain":["main","tail"],"range":[0.9,0.15]},"legend":null}}}]},
{"width":59,"height":55,"title":{"text":"(0.93; <10⁻³; 32x10³)","offset":8},"layer":[
{"data":{"name":"rules"},"transform":[{"filter":"datum.f=='AAFS'&&datum.s=='M.musculus'"}],"mark":{"type":"rule","color":"#a3a3a3","strokeWidth":1.2},"encoding":{"x":{"field":"x","type":"quantitative","scale":{"domain":[0,1],"nice":false,"zero":false},"axis":{"values":[0,1],"format":".1f","title":"AAFS"}}}},
{"data":{"name":"bands"},"transform":[{"filter":"datum.f=='AAFS'&&datum.s=='M.musculus'"}],"mark":{"type":"area","clip":true},"encoding":{"x":{"field":"x","type":"quantitative","scale":{"domain":[0,1],"nice":false,"zero":false},"axis":{"values":[0,1],"format":".1f","title":"AAFS"}},"y":{"field":"lo","type":"quantitative","scale":{"domain":[1.9,2.5],"nice":false,"zero":false},"axis":{"values":[1.9,2.5],"format":".1f","title":"3DGD"}},"y2":{"field":"hi"},"color":{"field":"s","type":"nominal","scale":{"domain":["S.pombe","S.cerevisiae","A.thaliana","M.musculus","H.sapiens"],"range":["#213d7c","#8ab4e3","#d0a5e2","#a9c8d4","#3c6373"]},"legend":{"title":null}},"opacity":{"field":"p","type":"nominal","scale":{"domain":["main","tail"],"range":[0.9,0.15]},"legend":null}}}]},
{"width":59,"height":55,"title":{"text":"(−0.23; 0.94; 32x10³)","offset":8},"layer":[
{"data":{"name":"rules"},"transform":[{"filter":"datum.f=='AAFS'&&datum.s=='H.sapiens'"}],"mark":{"type":"rule","color":"#a3a3a3","strokeWidth":1.2},"encoding":{"x":{"field":"x","type":"quantitative","scale":{"domain":[0,1],"nice":false,"zero":false},"axis":{"values":[0,1],"format":".1f","title":"AAFS"}}}},
{"data":{"name":"bands"},"transform":[{"filter":"datum.f=='AAFS'&&datum.s=='H.sapiens'"}],"mark":{"type":"area","clip":true},"encoding":{"x":{"field":"x","type":"quantitative","scale":{"domain":[0,1],"nice":false,"zero":false},"axis":{"values":[0,1],"format":".1f","title":"AAFS"}},"y":{"field":"lo","type":"quantitative","scale":{"domain":[1.8,2.0],"nice":false,"zero":false},"axis":{"values":[1.8,2.0],"format":".1f","title":"3DGD"}},"y2":{"field":"hi"},"color":{"field":"s","type":"nominal","scale":{"domain":["S.pombe","S.cerevisiae","A.thaliana","M.musculus","H.sapiens"],"range":["#213d7c","#8ab4e3","#d0a5e2","#a9c8d4","#3c6373"]},"legend":{"title":null}},"opacity":{"field":"p","type":"nominal","scale":{"domain":["main","tail"],"range":[0.9,0.15]},"legend":null}}}]},
{"width":63,"height":69,"title":{"text":"AAFS","offset":5,"fontSize":11},"data":{"name":"corr"},"transform":[{"filter":"datum.f=='AAFS'"}],"layer":[
{"mark":{"type":"bar"},"encoding":{"x":{"field":"s","type":"nominal","sort":["S.pombe","S.cerevisiae","A.thaliana","M.musculus","H.sapiens"],"scale":{"domain":["S.pombe","S.cerevisiae","A.thaliana","M.musculus","H.sapiens"],"paddingInner":0.1,"paddingOuter":0.5},"axis":null},"y":{"field":"r","type":"quantitative","scale":{"domain":[-1,1],"nice":false},"axis":{"values":[-1,0,1],"format":"d","title":"Correlation"}},"color":{"field":"s","type":"nominal","scale":{"domain":["S.pombe","S.cerevisiae","A.thaliana","M.musculus","H.sapiens"],"range":["#213d7c","#8ab4e3","#d0a5e2","#a9c8d4","#3c6373"]},"legend":{"title":null}}}},
{"mark":{"type":"rule","color":"#000","strokeWidth":1},"encoding":{"y":{"datum":0}}},
{"transform":[{"filter":"datum.sig"}],"mark":{"type":"text","text":"*","color":"#e8893a","fontSize":10,"baseline":"bottom","dy":3},"encoding":{"x":{"field":"s","type":"nominal","sort":["S.pombe","S.cerevisiae","A.thaliana","M.musculus","H.sapiens"],"scale":{"domain":["S.pombe","S.cerevisiae","A.thaliana","M.musculus","H.sapiens"],"paddingInner":0.1,"paddingOuter":0.5},"axis":null},"y":{"field":"r","type":"quantitative"}}}
]}
]}
],
"config":{
"font":"Liberation Sans",
"view":{"stroke":null},
"axis":{"grid":false,"domainColor":"#000","tickColor":"#000","labelColor":"#000","titleColor":"#000","labelFontSize":10,"titleFontSize":10.5,"titleFontWeight":"normal","tickSize":3,"labelPadding":1,"domainWidth":1,"tickWidth":1,"labelFlush":false,"labelOverlap":false},
"axisY":{"titlePadding":3},
"axisX":{"titlePadding":3},
"title":{"fontSize":10,"fontWeight":"normal","color":"#000"},
"legend":{"orient":"none","legendX":-32,"legendY":-52,"direction":"horizontal","columns":5,"gridAlign":"all","symbolType":"M-0.9,-0.32H0.9Q1,-0.32 1,-0.22V0.22Q1,0.32 0.9,0.32H-0.9Q-1,0.32 -1,0.22V-0.22Q-1,-0.32 -0.9,-0.32Z","symbolSize":2025,"symbolStrokeWidth":0,"symbolOpacity":1,"labelFontSize":10,"labelFontStyle":"italic","labelOffset":6,"columnPadding":37,"labelLimit":120,"padding":0}
}
}
